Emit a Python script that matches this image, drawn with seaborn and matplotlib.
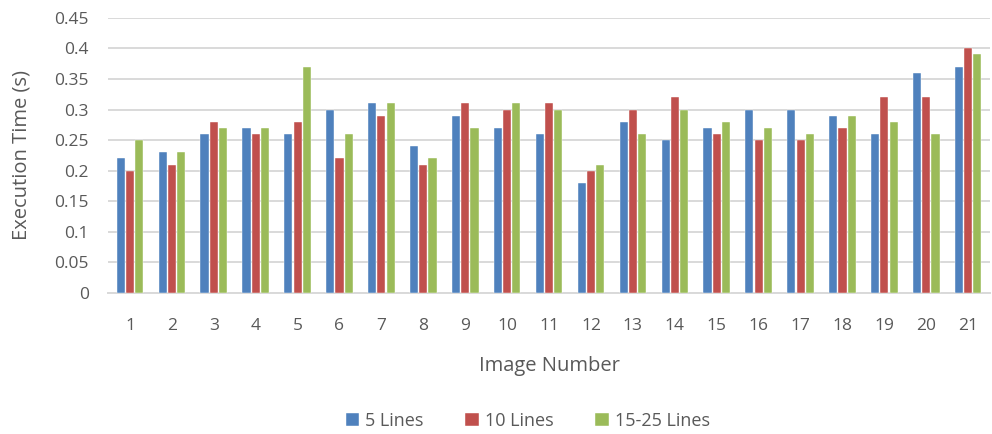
import matplotlib
matplotlib.use("Agg")
import matplotlib.pyplot as plt
import seaborn as sns
import pandas as pd

images = [str(i) for i in range(1, 22)]
series_names = ["5 Lines", "10 Lines", "15-25 Lines"]
lines_5 = [0.22, 0.23, 0.26, 0.27, 0.26, 0.30, 0.31, 0.24, 0.29, 0.27, 0.26,
           0.18, 0.28, 0.25, 0.27, 0.30, 0.30, 0.29, 0.26, 0.36, 0.37]
lines_10 = [0.20, 0.21, 0.28, 0.26, 0.28, 0.22, 0.29, 0.21, 0.31, 0.30, 0.31,
            0.20, 0.30, 0.32, 0.26, 0.25, 0.25, 0.27, 0.32, 0.32, 0.40]
lines_15_25 = [0.25, 0.23, 0.27, 0.27, 0.37, 0.26, 0.31, 0.22, 0.27, 0.31, 0.30,
               0.21, 0.26, 0.30, 0.28, 0.27, 0.26, 0.29, 0.28, 0.26, 0.39]
y_ticks = [0, 0.05, 0.1, 0.15, 0.2, 0.25, 0.3, 0.35, 0.4, 0.45]
y_tick_labels = ["0", "0.05", "0.1", "0.15", "0.2", "0.25", "0.3", "0.35", "0.4", "0.45"]
colors = ["#4F81BD", "#C0504D", "#9BBB59"]

df = pd.DataFrame({
    "Image": images * 3,
    "Series": [s for s in series_names for _ in images],
    "Time": lines_5 + lines_10 + lines_15_25,
})

sns.set_theme(style="white")
plt.rcParams["font.family"] = ["Open Sans", "DejaVu Sans"]
text_color = "#595959"

fig = plt.figure(figsize=(9.92, 4.34), dpi=100)
ax = fig.add_axes([0.109, 0.325, 0.889, 0.634])

sns.barplot(data=df, x="Image", y="Time", hue="Series", order=images,
            hue_order=series_names, palette=colors, saturation=1,
            width=0.66, gap=0.12, edgecolor="#FFFFFF", linewidth=0.3,
            errorbar=None, ax=ax, zorder=3)

ax.set_ylim(0, 0.45)
ax.set_xlim(-0.52, 20.52)
ax.set_yticks(y_ticks)
ax.set_yticklabels(y_tick_labels)
ax.yaxis.grid(True, color="#D9D9D9", linewidth=1.4, zorder=0)
ax.set_axisbelow(True)
for side in ["top", "right", "left"]:
    ax.spines[side].set_visible(False)
ax.spines["bottom"].set_color("#D9D9D9")
ax.spines["bottom"].set_linewidth(1.4)
ax.tick_params(axis="both", length=0, labelsize=12.5, colors=text_color)
ax.tick_params(axis="x", pad=18)
ax.tick_params(axis="y", pad=14)

ax.set_xlabel("Image Number", fontsize=14.5, color=text_color, labelpad=16)
ax.set_ylabel("Execution Time (s)", fontsize=14.5, color=text_color, labelpad=16)

handles, labels = ax.get_legend_handles_labels()
ax.legend(handles, labels, loc="center", bbox_to_anchor=(0.476, -0.465),
          ncol=3, frameon=False, fontsize=13, handlelength=0.75,
          handleheight=0.75, handletextpad=0.35, columnspacing=2.3,
          labelcolor=text_color)

fig.savefig("out.png", dpi=100, facecolor="white")
